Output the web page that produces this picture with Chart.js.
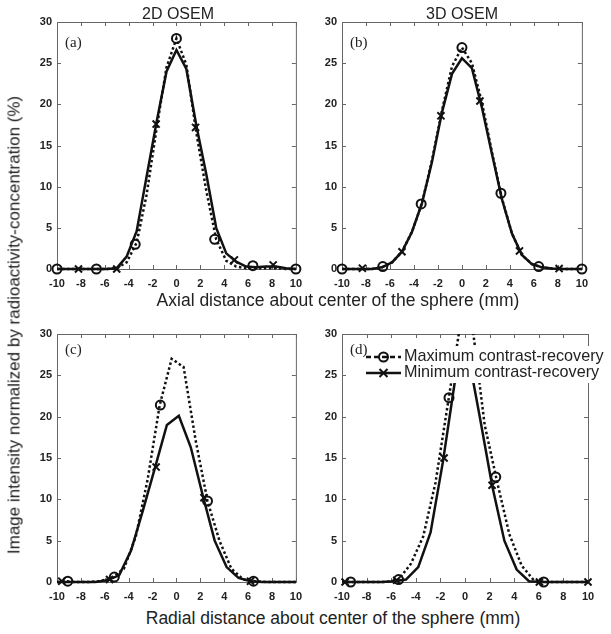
<!DOCTYPE html>
<html>
<head>
<meta charset="utf-8">
<script src="https://cdn.jsdelivr.net/npm/chart.js@4.4.0/dist/chart.umd.min.js"></script>
<style>
  body { margin: 0; background: #fff; width: 611px; height: 634px; position: relative; overflow: hidden;
         font-family: Arial, "Liberation Sans", sans-serif; }
  canvas { position: absolute; }
  .lbl { position: absolute; white-space: nowrap; color: #222; line-height: 1; }
  .tag { position: absolute; font-family: "Liberation Serif", "DejaVu Serif", serif; font-size: 15px; color: #222; line-height: 1; }
</style>
</head>
<body>
<canvas id="pa" width="290" height="292" style="left:20px;top:0px"></canvas>
<canvas id="pb" width="291" height="292" style="left:305px;top:0px"></canvas>
<canvas id="pc" width="290" height="293" style="left:20px;top:312px"></canvas>
<canvas id="pd" width="306" height="293" style="left:305px;top:312px"></canvas>

<div class="lbl" style="left:178px;top:6px;font-size:16px;transform:translateX(-50%)">2D OSEM</div>
<div class="lbl" style="left:462px;top:6px;font-size:16px;transform:translateX(-50%)">3D OSEM</div>
<div class="lbl" style="left:338px;top:292px;font-size:17.5px;transform:translateX(-50%)">Axial distance about center of the sphere (mm)</div>
<div class="lbl" style="left:333px;top:610px;font-size:17.5px;transform:translateX(-50%)">Radial distance about center of the sphere (mm)</div>
<div class="lbl" style="left:14px;top:325px;font-size:17px;transform:translate(-50%,-50%) rotate(-90deg)">Image intensity normalized by radioactivity-concentration (%)</div>

<div class="tag" style="left:65px;top:35px">(a)</div>
<div class="tag" style="left:350px;top:35px">(b)</div>
<div class="tag" style="left:65px;top:342px">(c)</div>
<div class="tag" style="left:350px;top:342px">(d)</div>

<script>
// axial profiles (panels a, b)
const axialX = [-10, -9.17, -8.33, -7.5, -6.67, -5.83, -5, -4.17, -3.33, -2.5, -1.67, -0.83, 0,
                0.83, 1.67, 2.5, 3.33, 4.17, 5, 5.83, 6.67, 7.5, 8.33, 9.17, 10];
const aMax = [0, 0, 0, 0, 0, 0, 0.1, 0.8, 3.2, 9.0, 17.0, 24.5, 28.0, 24.8, 16.5, 9.5, 3.6, 1.0, 0.3, 0.1, 0.1, 0.1, 0.1, 0, 0];
const aMin = [0, 0, 0, 0, 0, 0, 0.1, 1.5, 4.6, 11.2, 17.8, 24.0, 26.6, 24.3, 17.4, 11.5, 5.0, 1.9, 0.9, 0.3, 0.2, 0.3, 0.3, 0.1, 0];
const bMax = [0, 0, 0, 0, 0.2, 0.8, 2.1, 4.5, 8.0, 13.2, 19.2, 24.6, 26.9, 25.0, 20.2, 14.2, 8.6, 4.3, 1.7, 0.6, 0.2, 0.05, 0, 0, 0];
const bMin = [0, 0, 0, 0, 0.2, 0.8, 2.1, 4.5, 8.0, 13.0, 19.0, 23.7, 25.6, 24.4, 19.6, 14.0, 8.5, 4.3, 1.7, 0.6, 0.2, 0.05, 0, 0, 0];

// radial profiles (panels c, d)
const radMaxX = [-10, -9.4, -8.4, -7.4, -6.4, -5.4, -4.4, -3.4, -2.4, -1.4, -0.4, 0.6, 1.6, 2.6, 3.6, 4.6, 5.6, 6.6, 7.6, 8.6, 9.6, 10];
const radMinX = [-10, -9.8, -8.8, -7.8, -6.8, -5.8, -4.8, -3.8, -2.8, -1.8, -0.8, 0.2, 1.2, 2.2, 3.2, 4.2, 5.2, 6.2, 7.2, 8.2, 9.2, 10];
const cMax = [0, 0.1, 0, 0, 0.1, 0.5, 1.6, 5.5, 12.5, 21.4, 27.0, 26.0, 17.2, 9.8, 5.0, 1.6, 0.3, 0.1, 0, 0, 0, 0];
const cMin = [0, 0, 0, 0, 0, 0.2, 0.8, 3.8, 8.7, 13.8, 19.0, 20.1, 16.3, 10.5, 5.0, 1.8, 0.5, 0.1, 0, 0, 0, 0];
const dMax = [0, 0, 0, 0, 0, 0.3, 2.2, 5.5, 12.0, 21.5, 31.0, 31.0, 19.0, 12.2, 5.8, 2.0, 0.2, 0, 0, 0, 0, 0];
const dMin = [0, 0, 0, 0, 0, 0.1, 0.3, 1.8, 6.0, 14.5, 24.5, 28.0, 20.0, 11.7, 5.0, 1.5, 0.1, 0, 0, 0, 0, 0];

// marker positions (circle = maximum, cross = minimum contrast-recovery)
const aCircleX = [-10, -6.7, -3.45, 0, 3.2, 6.4, 10];
const aCircleY = [0, 0, 3.0, 28.0, 3.6, 0.4, 0];
const aCrossX = [-8.2, -5, -1.7, 1.6, 4.85, 8.1];
const aCrossY = [0, 0, 17.6, 17.2, 1.1, 0.5];
const bCircleX = [-10, -6.6, -3.4, 0, 3.25, 6.4, 10];
const bCircleY = [0, 0.3, 7.9, 26.9, 9.2, 0.3, 0];
const bCrossX = [-8.3, -5, -1.75, 1.5, 4.8, 8.1];
const bCrossY = [0.1, 2.1, 18.6, 20.4, 2.2, 0.05];
const cCircleX = [-9.1, -5.2, -1.35, 2.6, 6.45];
const cCircleY = [0.1, 0.6, 21.4, 9.8, 0.1];
const cCrossX = [-9.6, -5.6, -1.7, 2.3, 6.2];
const cCrossY = [0.1, 0.3, 13.9, 10.2, 0.1];
const dCircleX = [-9.3, -5.4, -1.3, 2.5, 6.4];
const dCircleY = [0, 0.3, 22.3, 12.7, 0];
const dCrossX = [-9.75, -5.55, -1.7, 2.2, 6.05, 10];
const dCrossY = [0, 0.2, 15.0, 11.7, 0, 0];

const seriesNames = ['Maximum contrast-recovery', 'Minimum contrast-recovery'];

function pts(xs, ys) {
  return xs.map((x, i) => ({ x: x, y: ys[i] }));
}

// box with inward ticks on all four sides
const framePlugin = {
  id: 'frame',
  beforeDatasetsDraw(chart) {
    const { ctx, chartArea: a, scales } = chart;
    ctx.save();
    ctx.strokeStyle = '#666';
    ctx.lineWidth = 1;
    ctx.strokeRect(a.left + 0.5, a.top + 0.5, a.right - a.left, a.bottom - a.top);
    ctx.beginPath();
    scales.x.ticks.forEach(t => {
      const px = Math.round(scales.x.getPixelForValue(t.value)) + 0.5;
      ctx.moveTo(px, a.bottom); ctx.lineTo(px, a.bottom - 4);
      ctx.moveTo(px, a.top); ctx.lineTo(px, a.top + 4);
    });
    scales.y.ticks.forEach(t => {
      const py = Math.round(scales.y.getPixelForValue(t.value)) + 0.5;
      ctx.moveTo(a.left, py); ctx.lineTo(a.left + 4, py);
      ctx.moveTo(a.right, py); ctx.lineTo(a.right - 4, py);
    });
    ctx.stroke();
    ctx.restore();
  }
};

// legend of panel (d), drawn on a white box over the curves
const legendPlugin = {
  id: 'boxLegend',
  afterDatasetsDraw(chart) {
    const { ctx, chartArea: a } = chart;
    const x0 = a.left + 24, y0 = a.top + 12;
    ctx.save();
    ctx.fillStyle = '#fff';
    ctx.fillRect(x0 - 2, y0, 246, 37);
    const rows = [y0 + 11, y0 + 27];
    ctx.strokeStyle = '#111';
    ctx.lineWidth = 2.5;
    rows.forEach((y, i) => {
      ctx.setLineDash(i === 0 ? [5, 3] : []);
      ctx.beginPath(); ctx.moveTo(x0, y); ctx.lineTo(x0 + 35, y); ctx.stroke();
      ctx.setLineDash([]);
      ctx.lineWidth = 2;
      const cx = x0 + 17.5;
      ctx.beginPath();
      if (i === 0) {
        ctx.arc(cx, y, 4.5, 0, Math.PI * 2);
      } else {
        ctx.moveTo(cx - 4, y - 4); ctx.lineTo(cx + 4, y + 4);
        ctx.moveTo(cx - 4, y + 4); ctx.lineTo(cx + 4, y - 4);
      }
      ctx.stroke();
      ctx.lineWidth = 2.5;
      ctx.fillStyle = '#222';
      ctx.font = '16.2px Arial, "Liberation Sans", sans-serif';
      ctx.textBaseline = 'middle';
      ctx.fillText(seriesNames[i], x0 + 38, y);
    });
    ctx.restore();
  }
};

function makePanel(id, maxX, maxY, minX, minY, circX, circY, crossX, crossY, padRight, extra) {
  const lineClip = { left: 2, right: 2, top: 0, bottom: 2 };
  new Chart(document.getElementById(id), {
    type: 'line',
    data: {
      datasets: [
        { label: seriesNames[0], data: pts(maxX, maxY), borderColor: '#111', borderWidth: 2.5,
          borderDash: [2.5, 2.5], pointRadius: 0, tension: 0, clip: lineClip },
        { label: seriesNames[1], data: pts(minX, minY), borderColor: '#111', borderWidth: 2.5,
          pointRadius: 0, tension: 0, clip: lineClip },
        { label: 'max markers', data: pts(circX, circY), showLine: false, pointStyle: 'circle',
          pointRadius: 4.5, pointBorderWidth: 2, pointBorderColor: '#111',
          pointBackgroundColor: 'rgba(0,0,0,0)', clip: false },
        { label: 'min markers', data: pts(crossX, crossY), showLine: false, pointStyle: 'crossRot',
          pointRadius: 5, pointBorderWidth: 2, pointBorderColor: '#111', clip: false }
      ]
    },
    options: {
      responsive: false,
      animation: false,
      layout: { padding: { left: 0, right: padRight, top: 22, bottom: 0 } },
      plugins: { legend: { display: false }, tooltip: { enabled: false } },
      scales: {
        x: {
          type: 'linear', min: -10, max: 10,
          grid: { display: false, drawTicks: false }, border: { display: false },
          ticks: { stepSize: 2, color: '#222', padding: 8, maxRotation: 0,
                   font: { family: 'Arial, "Liberation Sans"', size: 11, weight: 'bold' } },
          afterFit(s) { s.height = 23; }
        },
        y: {
          min: 0, max: 30,
          grid: { display: false, drawTicks: false }, border: { display: false },
          ticks: { stepSize: 5, color: '#222', padding: 5,
                   font: { family: 'Arial, "Liberation Sans"', size: 11, weight: 'bold' } },
          afterFit(s) { s.width = 37; }
        }
      }
    },
    plugins: extra ? [framePlugin, extra] : [framePlugin]
  });
}

makePanel('pa', axialX, aMax, axialX, aMin, aCircleX, aCircleY, aCrossX, aCrossY, 8);
makePanel('pb', axialX, bMax, axialX, bMin, bCircleX, bCircleY, bCrossX, bCrossY, 8);
makePanel('pc', radMaxX, cMax, radMinX, cMin, cCircleX, cCircleY, cCrossX, cCrossY, 8);
makePanel('pd', radMaxX, dMax, radMinX, dMin, dCircleX, dCircleY, dCrossX, dCrossY, 23, legendPlugin);
</script>
</body>
</html>
